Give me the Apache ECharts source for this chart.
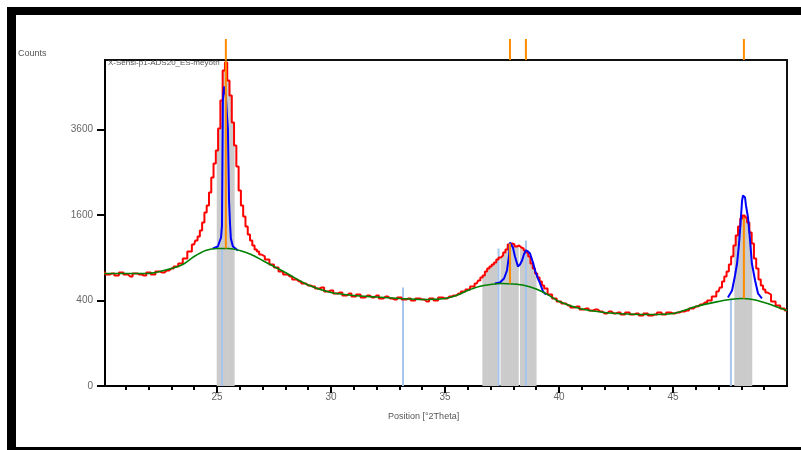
<!DOCTYPE html>
<html><head><meta charset="utf-8">
<script src="https://cdn.jsdelivr.net/npm/echarts@6/dist/echarts.min.js"></script>
<style>html,body{margin:0;padding:0;background:#fff}#c{width:801px;height:450px}</style>
</head><body><div id="c"></div>
<script>
// Observed scan, in segments (start, step, counts)
const segStart = [20.0, 24.0, 27.2, 36.4, 39.6, 47.0, 49.4];
const segStep  = [0.2, 0.1, 0.2, 0.1, 0.2, 0.1, 0.2];
const obsA = [705,680,693,668,705,680,656,693,680,668,705,680,717,705,730,755,781,821,889,990];
const obsB = [1096,1158,1223,1323,1463,1647,1783,2049,2379,2709,3035,3628,4460,5447,5726,5107,4618,3799,3165,2636,2091,1783,1572,1392,1256,1158,1080,1020,990,946,918];
const obsC = [876,808,768,717,680,656,621,598,575,553,542,520,531,489,499,468,478,448,468,438,458,429,448,429,448,419,438,419,409,429,409,419,400,419,409,391,419,400,429,419,438,448,468,489,510,542];
const obsD = [575,609,644,668,717,755,781,808,835,876,904,932,975,1020,1096,1111,1096,1065,1080,1050,1035,1005,975,918,821,755,693,644,598,553,520];
const obsE = [458,419,391,372,355,337,346,320,329,312,320,304,288,304,288,296,280,296,280,288,272,288,272,280,296,280,296,288,296,304,312,329,346,363,381,400,438];
const obsF = [489,531,598,656,717,808,918,1080,1239,1392,1535,1591,1553,1463,1289,1111,889,755,621,553,510,478,458];
const obsG = [391,355,329,312];
// Background
const bgX = [20.0,21,22,23,23.5,24,24.5,25,25.5,26,26.5,27,27.5,28,29,30,31,32,33,34,35,35.5,36,36.5,37,37.5,38,38.5,39,39.5,40,41,42,43,44,45,46,47,47.5,48,48.5,49,49.5,50];
const bgCounts = [693,693,693,755,808,918,1005,1035,1035,1005,946,862,781,705,558,478,448,433,419,409,419,448,499,542,564,575,569,553,515,458,391,324,296,284,280,288,346,391,409,419,409,381,346,312];
// Calculated profile near each peak
const calc1X = [24.82,25.04,25.13,25.18,25.22,25.26,25.31,25.35,25.39,25.44,25.48,25.53,25.57,25.61,25.70,25.92];
const calc1Counts = [1035,1065,1158,1206,1408,4460,4908,4908,4618,4005,3626,1883,1463,1190,1065,1005];
const calc2X = [37.19,37.41,37.59,37.72,37.81,37.85,37.89,37.98,38.07,38.16,38.20,38.29,38.38,38.46,38.55,38.64,38.73,38.86,38.95,39.08,39.17,39.30,39.43];
const calc2Counts = [575,586,632,730,932,1127,1143,1050,918,821,781,808,862,946,1005,990,961,835,730,632,575,489,458];
const calc3X = [47.41,47.59,47.72,47.81,47.89,47.94,48.03,48.07,48.16,48.20,48.29,48.38,48.46,48.60,48.73,48.90];
const calc3Counts = [429,499,668,821,1080,1323,1883,1986,1944,1783,1553,1158,821,609,468,419];
// Reference pattern (light blue sticks)
const refX = [25.22,33.16,37.35,38.55,47.54];
const refCounts = [1035,531,1035,1158,419];
// Peak list (orange)
const peakX = [25.39,37.85,38.55,48.11];
const stickX = [25.39,37.85,48.11];
const stickBase = [1035,575,419];
const stickTop = [5800,1111,1553];
// Peak area windows (grey)
const winStart = [24.99,36.65,37.44,38.29,47.69];
const winEnd = [25.75,37.34,38.21,38.99,48.45];
// Axis ticks
const xMajor = [25,30,35,40,45];
const xMinor = [21,22,23,24,26,27,28,29,31,32,33,34,36,37,38,39,41,42,43,44,46,47,48,49];
const yTickCounts = [0,400,1600,3600];

const X_MIN = 20.09, X_MAX = 50, Y_MAX = 76.25;
const s = c => Math.sqrt(c);
const segCounts = [obsA, obsB, obsC, obsD, obsE, obsF, obsG];
const obsX = [], obsCounts = [];
segCounts.forEach((arr, k) => arr.forEach((c, i) => {
  obsX.push(+(segStart[k] + i * segStep[k]).toFixed(2)); obsCounts.push(c);
}));
const bounds = obsX.map((x, i) => [i > 0 ? (obsX[i - 1] + x) / 2 : x, i < obsX.length - 1 ? (x + obsX[i + 1]) / 2 : x]);
const pairs = (xs, cs) => xs.map((x, i) => [x, s(cs[i])]);

const chart = echarts.init(document.getElementById('c'), null, {renderer: 'canvas'});
const FONT = 'Liberation Sans, Arial, sans-serif';
const labelStyle = {color: '#666', fontSize: 10, fontFamily: FONT};

const option = {
  animation: false,
  backgroundColor: '#fff',
  grid: {left: 105, top: 60, right: 14, bottom: 64, show: true, borderColor: '#111', borderWidth: 2, backgroundColor: 'transparent'},
  xAxis: [
    {type: 'value', min: X_MIN, max: X_MAX, position: 'bottom',
     axisLine: {show: true, lineStyle: {color: '#000', width: 2}},
     axisTick: {show: true, customValues: xMinor, length: 4, lineStyle: {color: '#000', width: 2}},
     axisLabel: {show: false}, splitLine: {show: false}},
    {type: 'value', min: X_MIN, max: X_MAX, position: 'bottom',
     axisLine: {show: false},
     axisTick: {show: true, customValues: xMajor, length: 7, lineStyle: {color: '#000', width: 2}},
     axisLabel: Object.assign({show: true, customValues: xMajor, margin: 6}, labelStyle),
     splitLine: {show: false}}
  ],
  yAxis: [{type: 'value', min: 0, max: Y_MAX,
    axisLine: {show: true, lineStyle: {color: '#000', width: 2}},
    axisTick: {show: true, customValues: yTickCounts.map(s), length: 8, lineStyle: {color: '#000', width: 2}},
    axisLabel: Object.assign({show: true, customValues: yTickCounts.map(s), margin: 12,
      formatter: v => String(Math.round(v * v))}, labelStyle),
    splitLine: {show: false}}],
  graphic: [
    {type: 'rect', shape: {x: 7, y: 7, width: 794, height: 8}, style: {fill: '#000'}},
    {type: 'rect', shape: {x: 7, y: 7, width: 9, height: 443}, style: {fill: '#000'}},
    {type: 'rect', shape: {x: 7, y: 447, width: 794, height: 3}, style: {fill: '#000'}},
    {type: 'text', left: 18, top: 49, style: {text: 'Counts', fill: '#555', fontSize: 9, fontFamily: FONT}},
    {type: 'text', left: 388, top: 412, style: {text: 'Position [°2Theta]', fill: '#555', fontSize: 9, fontFamily: FONT}},
    {type: 'text', left: 108, top: 59, z: 100, style: {text: 'X-Sensi-p1-ADS20_ES-meyoth', fill: '#555', fontSize: 8, fontFamily: FONT}}
  ],
  series: [
    {type: 'custom', name: 'areas', z: 1, silent: true, clip: true,
     data: winStart.map((a, i) => [a, winEnd[i]]),
     renderItem: (params, api) => {
       const a = api.value(0), b = api.value(1);
       const children = [];
       obsX.forEach((x, i) => {
         const l = Math.max(a, bounds[i][0]), r = Math.min(b, bounds[i][1]);
         if (r <= l) return;
         const p0 = api.coord([l, 0]);
         const p1 = api.coord([r, Math.min(s(obsCounts[i]), Y_MAX)]);
         children.push({type: 'rect', shape: {x: p0[0], y: p1[1], width: p1[0] - p0[0] + 0.6, height: p0[1] - p1[1]},
           style: {fill: '#cbcbcb'}});
       });
       return {type: 'group', children};
     }},
    {type: 'custom', name: 'ref', z: 2, silent: true,
     data: pairs(refX, refCounts),
     renderItem: (params, api) => {
       const p0 = api.coord([api.value(0), 0]), p1 = api.coord([api.value(0), api.value(1)]);
       return {type: 'line', shape: {x1: p0[0], y1: p0[1], x2: p1[0], y2: p1[1]}, style: {stroke: '#a6c6ee', lineWidth: 2}};
     }},
    {type: 'line', name: 'obs', z: 3, data: pairs(obsX, obsCounts), step: 'middle', symbol: 'none',
     lineStyle: {color: '#ff0000', width: 2}},
    {type: 'line', name: 'calc1', z: 4, data: pairs(calc1X, calc1Counts), symbol: 'none', lineStyle: {color: '#0000ff', width: 2}},
    {type: 'line', name: 'calc2', z: 4, data: pairs(calc2X, calc2Counts), symbol: 'none', lineStyle: {color: '#0000ff', width: 2}},
    {type: 'line', name: 'calc3', z: 4, data: pairs(calc3X, calc3Counts), symbol: 'none', lineStyle: {color: '#0000ff', width: 2}},
    {type: 'line', name: 'bg', z: 5, data: pairs(bgX, bgCounts), smooth: 0.3, symbol: 'none', lineStyle: {color: '#008000', width: 1.6}},
    {type: 'custom', name: 'sticks', z: 6, silent: true,
     data: stickX.map((x, i) => [x, s(stickBase[i]), Math.min(s(stickTop[i]), Y_MAX)]),
     renderItem: (params, api) => {
       const p0 = api.coord([api.value(0), api.value(1)]), p1 = api.coord([api.value(0), api.value(2)]);
       return {type: 'line', shape: {x1: p0[0], y1: p0[1], x2: p1[0], y2: p1[1]}, style: {stroke: '#ff8c00', lineWidth: 2}};
     }},
    {type: 'custom', name: 'peaks', z: 6, silent: true, clip: false,
     data: peakX.map(x => [x]),
     renderItem: (params, api) => {
       const p = api.coord([api.value(0), Y_MAX]);
       return {type: 'line', shape: {x1: p[0], y1: p[1], x2: p[0], y2: p[1] - 21}, style: {stroke: '#ff8c00', lineWidth: 2}};
     }}
  ]
};
chart.setOption(option);
</script></body></html>
